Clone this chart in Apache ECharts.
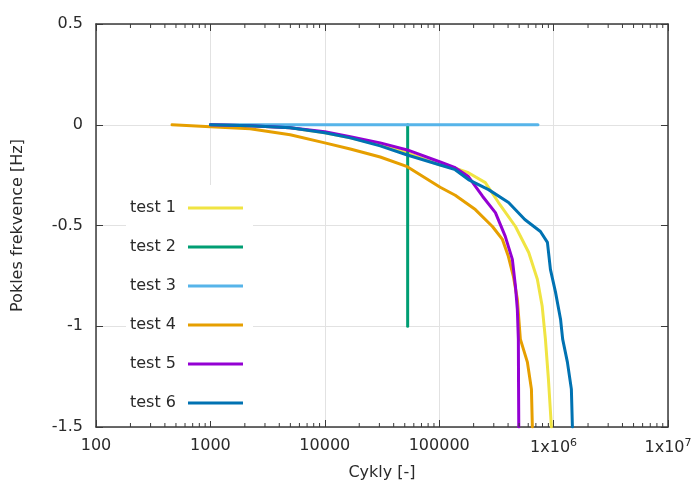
<!DOCTYPE html>
<html>
<head>
<meta charset="utf-8">
<script src="https://cdn.jsdelivr.net/npm/echarts@6/dist/echarts.min.js"></script>
<style>
html,body{margin:0;padding:0;background:#fff;}
#chart{width:695px;height:486px;}
</style>
</head>
<body>
<div id="chart"></div>
<script>
// ---- data ----
const seriesNames = ['test 1', 'test 2', 'test 3', 'test 4', 'test 5', 'test 6'];
const seriesColors = ['#f0e442', '#009e73', '#56b4e9', '#e69f00', '#9400d3', '#0072b2'];

const test1X = [1000, 2220, 4980, 10000, 16700, 30500, 52600, 102000, 138000, 180000, 253000, 330000, 464000, 606000, 721000, 795000, 848000, 901000, 957000];
const test1Y = [0, -0.005, -0.015, -0.04, -0.065, -0.1, -0.14, -0.2, -0.215, -0.238, -0.287, -0.386, -0.505, -0.634, -0.767, -0.901, -1.064, -1.262, -1.5];

const test2X = [53000, 53000];
const test2Y = [0, -1];

const test3X = [1000, 730000];
const test3Y = [0, 0];

const test4X = [462, 1000, 2220, 4980, 10000, 16700, 30500, 52600, 102000, 138000, 207000, 292000, 357000, 402000, 445000, 482000, 512000, 590000, 640000, 652000];
const test4Y = [0, -0.01, -0.02, -0.05, -0.09, -0.12, -0.16, -0.208, -0.31, -0.35, -0.421, -0.505, -0.569, -0.653, -0.752, -0.866, -1.064, -1.178, -1.312, -1.5];

const test5X = [1000, 2220, 4980, 10000, 16700, 30500, 52600, 102000, 138000, 180000, 240000, 310000, 378000, 436000, 464000, 482000, 492000, 494000, 496000];
const test5Y = [0, -0.005, -0.015, -0.035, -0.06, -0.09, -0.125, -0.185, -0.213, -0.257, -0.356, -0.436, -0.554, -0.668, -0.802, -0.916, -1.064, -1.3, -1.5];

const test6X = [1000, 2220, 4980, 10000, 16700, 30500, 52600, 102000, 138000, 180000, 270000, 404000, 560000, 767000, 883000, 938000, 1040000, 1150000, 1200000, 1320000, 1430000, 1460000];
const test6Y = [0, -0.005, -0.015, -0.04, -0.065, -0.105, -0.15, -0.2, -0.223, -0.272, -0.322, -0.386, -0.47, -0.53, -0.584, -0.718, -0.832, -0.965, -1.064, -1.178, -1.312, -1.5];

const xTickLabels = ['100', '1000', '10000', '100000', '1x10{s|6}', '1x10{s|7}'];
const yTickLabels = ['-1.5', '-1', '-0.5', '0', '0.5'];
const minorTickValues = [200,300,400,500,600,700,800,900,2000,3000,4000,5000,6000,7000,8000,9000,
  20000,30000,40000,50000,60000,70000,80000,90000,200000,300000,400000,500000,600000,700000,800000,900000,
  2000000,3000000,4000000,5000000,6000000,7000000,8000000,9000000];

const xName = 'Cykly [-]';
const yName = 'Pokles frekvence [Hz]';

// ---- build ----
const xs = [test1X, test2X, test3X, test4X, test5X, test6X];
const ys = [test1Y, test2Y, test3Y, test4Y, test5Y, test6Y];
const zip = (a, b) => a.map((v, i) => [v, b[i]]);

const FONT = 'DejaVu Sans, sans-serif';
const FS = 16;
const textColor = '#2a2a2a';
const borderColor = '#3a3a3a';

const lineSeries = seriesNames.map((name, i) => ({
  name: name,
  type: 'line',
  data: zip(xs[i], ys[i]),
  showSymbol: false,
  symbol: 'none',
  color: seriesColors[i],
  lineStyle: { width: 3, color: seriesColors[i], join: 'round', cap: 'round' },
  z: 3 + i,
  animation: false
}));

const minorTickSeries = {
  type: 'custom',
  data: minorTickValues.map(v => [v]),
  silent: true,
  z: 20,
  renderItem: function (params, api) {
    const v = api.value(0);
    const b = api.coord([v, -1.5]);
    const t = api.coord([v, 0.5]);
    return {
      type: 'group',
      children: [
        { type: 'line', shape: { x1: b[0], y1: b[1], x2: b[0], y2: b[1] - 4 }, style: { stroke: borderColor, lineWidth: 1 } },
        { type: 'line', shape: { x1: t[0], y1: t[1], x2: t[0], y2: t[1] + 4 }, style: { stroke: borderColor, lineWidth: 1 } }
      ]
    };
  },
  animation: false
};

const chart = echarts.init(document.getElementById('chart'), null, { renderer: 'canvas' });
chart.setOption({
  animation: false,
  backgroundColor: '#fff',
  textStyle: { fontFamily: FONT },
  grid: { left: 96, right: 27, top: 24, bottom: 58, containLabel: false },
  legend: {
    data: seriesNames,
    orient: 'vertical',
    left: 126,
    top: 185,
    align: 'right',
    icon: 'rect',
    itemWidth: 55,
    itemHeight: 3,
    itemGap: 23,
    padding: [15, 10, 10, 4],
    backgroundColor: '#fff',
    selectedMode: false,
    textStyle: { fontFamily: FONT, fontSize: FS, color: textColor, padding: [0, 7, 0, 0] },
    z: 10
  },
  xAxis: [
    {
      type: 'log',
      logBase: 10,
      min: 100,
      max: 10000000,
      splitNumber: 5,
      name: xName,
      nameLocation: 'middle',
      nameGap: 38,
      nameTextStyle: { fontFamily: FONT, fontSize: FS, color: textColor },
      axisLine: { show: true, onZero: false, lineStyle: { color: borderColor, width: 1.5 } },
      axisTick: { show: true, inside: true, length: 7, lineStyle: { color: borderColor, width: 1 } },
      axisLabel: {
        fontFamily: FONT, fontSize: FS, color: textColor, margin: 11,
        formatter: function (v) {
          const idx = Math.round(Math.log10(v)) - 2;
          return xTickLabels[idx] !== undefined ? xTickLabels[idx] : '';
        },
        rich: { s: { fontFamily: FONT, fontSize: 11, color: textColor, padding: [0, 0, 9, 0] } }
      },
      splitLine: { show: true, lineStyle: { color: '#e2e2e2', width: 1 } }
    },
    {
      type: 'log',
      logBase: 10,
      min: 100,
      max: 10000000,
      splitNumber: 5,
      position: 'top',
      axisLine: { show: true, onZero: false, lineStyle: { color: borderColor, width: 1.5 } },
      axisTick: { show: true, inside: true, length: 7, lineStyle: { color: borderColor, width: 1 } },
      axisLabel: { show: false },
      splitLine: { show: false }
    }
  ],
  yAxis: [
    {
      type: 'value',
      min: -1.5,
      max: 0.5,
      interval: 0.5,
      name: yName,
      nameLocation: 'middle',
      nameGap: 70,
      nameTextStyle: { fontFamily: FONT, fontSize: FS, color: textColor },
      axisLine: { show: true, onZero: false, lineStyle: { color: borderColor, width: 1.5 } },
      axisTick: { show: true, inside: true, length: 7, lineStyle: { color: borderColor, width: 1 } },
      axisLabel: {
        fontFamily: FONT, fontSize: FS, color: textColor, margin: 13,
        formatter: function (v) {
          const idx = Math.round((v + 1.5) / 0.5);
          return yTickLabels[idx] !== undefined ? yTickLabels[idx] : '';
        }
      },
      splitLine: { show: true, lineStyle: { color: '#e2e2e2', width: 1 } }
    },
    {
      type: 'value',
      min: -1.5,
      max: 0.5,
      interval: 0.5,
      position: 'right',
      axisLine: { show: true, onZero: false, lineStyle: { color: borderColor, width: 1.5 } },
      axisTick: { show: true, inside: true, length: 7, lineStyle: { color: borderColor, width: 1 } },
      axisLabel: { show: false },
      splitLine: { show: false }
    }
  ],
  series: lineSeries.concat([minorTickSeries])
});
</script>
</body>
</html>
